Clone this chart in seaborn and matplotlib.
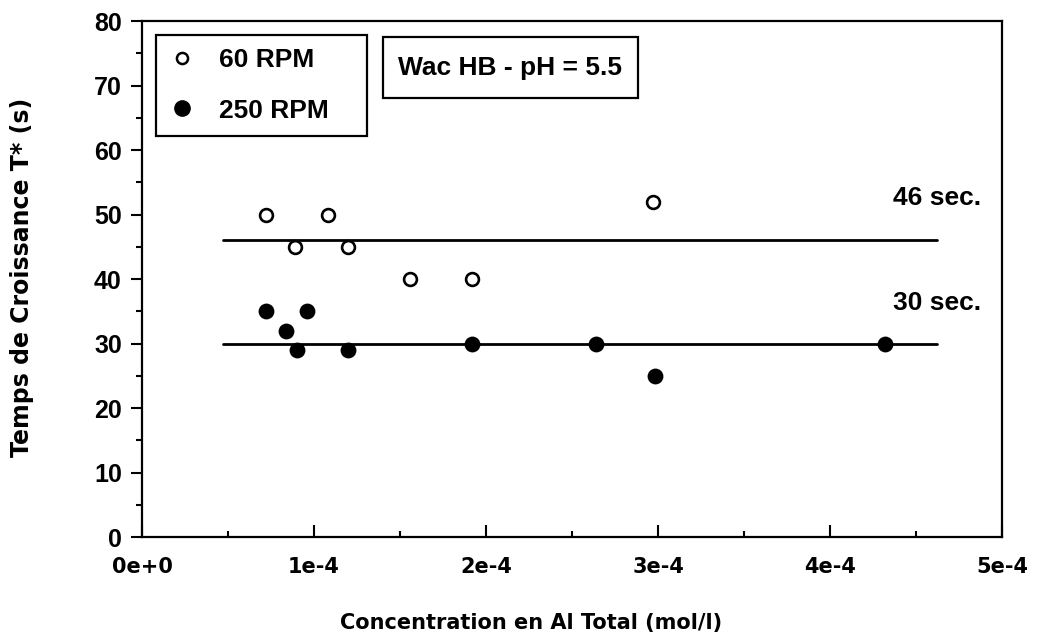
import matplotlib
matplotlib.use("Agg")
import matplotlib.pyplot as plt
from matplotlib.lines import Line2D
from matplotlib.patches import Rectangle
from matplotlib.ticker import MultipleLocator
import seaborn as sns
import pandas as pd

# 60 RPM (open circles)
x_60 = [0.72e-4, 0.89e-4, 1.08e-4, 1.20e-4, 1.56e-4, 1.92e-4, 2.97e-4]
y_60 = [50, 45, 50, 45, 40, 40, 52]

# 250 RPM (filled circles)
x_250 = [0.72e-4, 0.84e-4, 0.90e-4, 0.96e-4, 1.20e-4, 1.92e-4, 2.64e-4, 2.98e-4, 4.32e-4]
y_250 = [35, 32, 29, 35, 29, 30, 30, 25, 30]

# reference levels
ref_levels = [46, 30]
ref_labels = ["46 sec.", "30 sec."]
ref_x = [0.47e-4, 4.62e-4]

x_ticks = [0, 1e-4, 2e-4, 3e-4, 4e-4, 5e-4]
x_ticklabels = ["0e+0", "1e-4", "2e-4", "3e-4", "4e-4", "5e-4"]
y_ticks = [0, 10, 20, 30, 40, 50, 60, 70, 80]

df60 = pd.DataFrame({"x": x_60, "y": y_60})
df250 = pd.DataFrame({"x": x_250, "y": y_250})

sns.set_style("ticks")
plt.rcParams['font.family'] = ['Liberation Sans', 'DejaVu Sans']
plt.rcParams['font.weight'] = 'bold'
plt.rcParams['text.color'] = 'black'
plt.rcParams['axes.labelcolor'] = 'black'
plt.rcParams['xtick.color'] = 'black'
plt.rcParams['ytick.color'] = 'black'

fig = plt.figure(figsize=(10.4, 6.39), dpi=100)
ax = fig.add_axes([0.1365, 0.1596, 0.827, 0.8075])

# reference lines
for lvl in ref_levels:
    ax.plot(ref_x, [lvl, lvl], color="black", linewidth=2, zorder=1)

sns.scatterplot(data=df60, x="x", y="y", ax=ax, marker="o", s=85,
                facecolor="white", edgecolor="black", linewidth=1.9, zorder=3)
sns.scatterplot(data=df250, x="x", y="y", ax=ax, marker="o", s=130,
                color="black", edgecolor="black", linewidth=0, zorder=3)

# level annotations
ref_text_y = [52.6, 36.3]
for lbl, ty in zip(ref_labels, ref_text_y):
    ax.text(4.88e-4, ty, lbl, ha="right", va="center", fontsize=19, fontweight="bold")

ax.set_xlim(0, 5e-4)
ax.set_ylim(0, 80)
ax.set_xticks(x_ticks)
ax.set_xticklabels(x_ticklabels, family="DejaVu Sans", fontsize=15, fontweight="bold")
ax.set_yticks(y_ticks)
ax.tick_params(axis="y", labelsize=18, width=1.5, length=8, direction="out", pad=6.5)
ax.tick_params(axis="x", width=1.5, length=9, direction="in", pad=14.5)
ax.xaxis.set_minor_locator(MultipleLocator(0.5e-4))
ax.yaxis.set_minor_locator(MultipleLocator(5))
ax.tick_params(axis="y", which="minor", length=4, width=1.5, direction="out")
ax.tick_params(axis="x", which="minor", length=4, width=1.5, direction="in")
for lbl in ax.get_yticklabels():
    lbl.set_fontweight("bold")

for side in ["left", "right", "top", "bottom"]:
    ax.spines[side].set_visible(True)
    ax.spines[side].set_linewidth(1.6)
    ax.spines[side].set_color("black")

ax.set_xlabel("Concentration en Al Total (mol/l)", family="DejaVu Sans",
              fontsize=15, fontweight="bold")
ax.set_ylabel("Temps de Croissance T* (s)", family="DejaVu Sans",
              fontsize=17, fontweight="bold")
ax.xaxis.set_label_coords(0.452, -0.147)
ax.yaxis.set_label_coords(-0.125, 0.503)

handles = [
    Line2D([], [], marker="o", linestyle="none", markersize=8, markerfacecolor="white",
           markeredgecolor="black", markeredgewidth=1.8, label="60 RPM"),
    Line2D([], [], marker="o", linestyle="none", markersize=11, markerfacecolor="black",
           markeredgecolor="black", label="250 RPM"),
]
leg = ax.legend(handles=handles, loc="upper left",
                bbox_to_anchor=(0.0163, 0.973 - 0.2, 0.2453, 0.2), mode="expand",
                borderaxespad=0, frameon=True, fancybox=False, edgecolor="black",
                framealpha=1, prop={"size": 19, "weight": "bold"}, labelspacing=1.0,
                handletextpad=0.9, handlelength=1.0, borderpad=0.5)
leg.get_frame().set_linewidth(1.6)

# annotation box
ax.add_patch(Rectangle((0.2802, 0.8508), 0.2965, 0.1182, transform=ax.transAxes,
                       facecolor="white", edgecolor="black", linewidth=1.6, zorder=4))
ax.text(0.428, 0.909, "Wac HB - pH = 5.5", transform=ax.transAxes, ha="center", va="center",
        fontsize=19, fontweight="bold", zorder=5)

fig.savefig("out.png", dpi=100)
